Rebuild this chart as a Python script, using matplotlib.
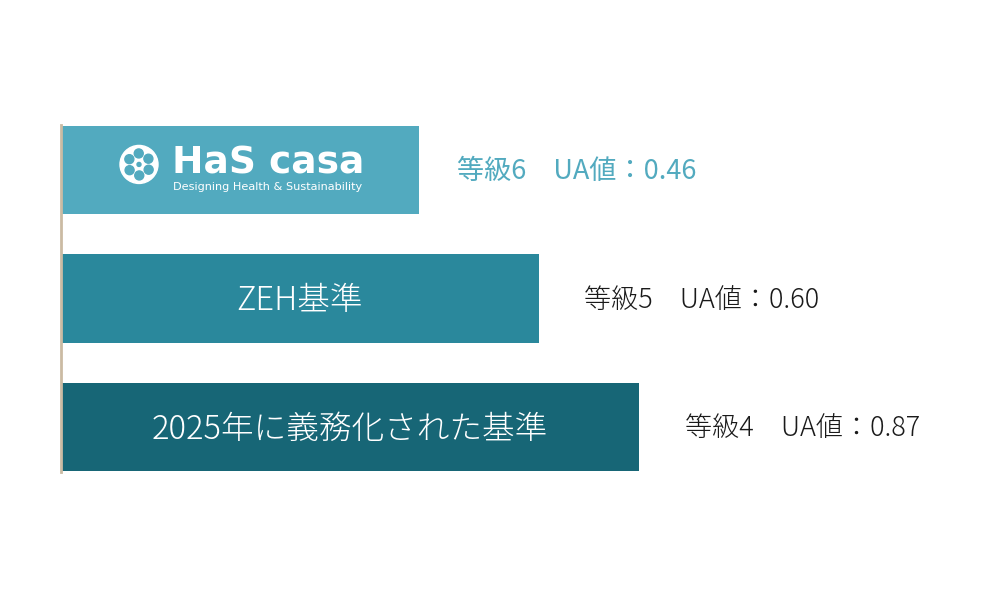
import numpy as np
import matplotlib
matplotlib.use('Agg')
from matplotlib import pyplot as plt
from matplotlib.patches import Ellipse

plt.rcParams['font.family'] = ['Noto Sans CJK JP', 'DejaVu Sans']

# data
names = ['HaS casa', 'ZEH基準', '2025年に義務化された基準']
widths = [358, 478, 578]          # bar lengths as drawn (relative scale)
grades = ['等級6', '等級5', '等級4']
ua_vals = [0.46, 0.60, 0.87]
bar_colors = ['#52aabf', '#2a889c', '#176676']
label_colors = ['#52aabf', '#1a1a1a', '#1a1a1a']

fig = plt.figure(figsize=(10, 6), dpi=100)
ax = fig.add_axes([0.061, 0.2133, 0.939, 0.5784])
y = np.arange(len(names))
ax.barh(y, widths, height=0.69, color=bar_colors, left=0)
ax.set_xlim(0, 939)
ax.set_ylim(2.35, -0.35)

for s in ['top', 'right', 'bottom']:
    ax.spines[s].set_visible(False)
ax.spines['left'].set_color('#cbbba3')
ax.spines['left'].set_linewidth(2)
ax.set_xticks([])
ax.set_yticks([])

# bar captions (first one is the logo)
for i in range(1, len(names)):
    ax.text(widths[i] / 2, y[i] + 0.02, names[i], color='white', fontsize=23.5,
            ha='center', va='center', fontweight='light')

# logo on the top bar: lotus root icon + wordmark
yscale = 1 / 128.5   # y units per pixel
cx, cy, r = 78, y[0] - 0.043, 19
ax.add_patch(Ellipse((cx, cy), 2 * r, 2 * r * yscale, color='white'))
for a in np.linspace(0, 2 * np.pi, 7)[:-1]:
    px = cx + 11 * np.cos(a + 0.5)
    py = cy + 11 * np.sin(a + 0.5) * yscale
    ax.add_patch(Ellipse((px, py), 9, 9 * yscale, color=bar_colors[0]))
ax.add_patch(Ellipse((cx, cy), 4, 4 * yscale, color=bar_colors[0]))
ax.text(111, y[0] - 0.05, 'HaS casa', color='white', fontsize=27,
        fontweight='bold', ha='left', va='center', family=['DejaVu Sans'])
ax.text(112, y[0] + 0.13, 'Designing Health & Sustainability', color='white',
        fontsize=8.1, ha='left', va='center', family=['DejaVu Sans'])

# right side labels
offsets = [38, 45, 46]
for i in range(len(names)):
    txt = f'{grades[i]}\u3000UA値：{ua_vals[i]:.2f}'
    ax.text(widths[i] + offsets[i], y[i] + 0.01, txt, color=label_colors[i],
            fontsize=19.5, ha='left', va='center',
            fontweight='normal' if i == 0 else 'light')

fig.savefig('out.png', dpi=100)
